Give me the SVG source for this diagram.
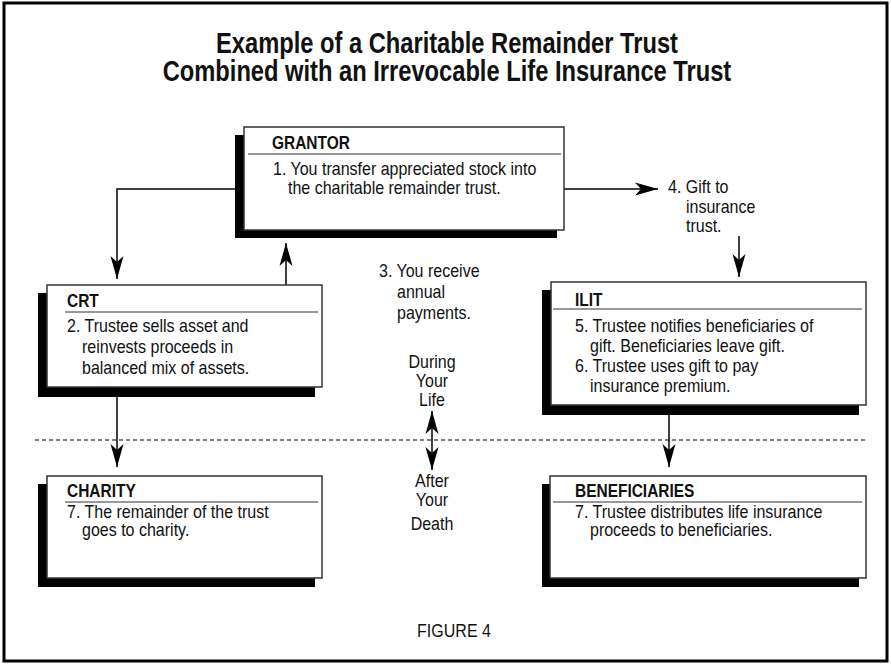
<svg xmlns="http://www.w3.org/2000/svg" width="891" height="665" viewBox="0 0 891 665">
<style>
text{font-family:"Liberation Sans",Arial,sans-serif;fill:#111;transform-box:fill-box;}
.title{font-size:30px;font-weight:bold;text-anchor:middle;transform-origin:50% 50%;transform:scaleX(0.79);}
.hd{font-size:18px;font-weight:bold;transform-origin:0 50%;transform:scaleX(0.86);}
.tx{font-size:17.5px;transform-origin:0 50%;transform:scaleX(0.915);}
.mid{font-size:17.5px;text-anchor:middle;transform-origin:50% 50%;transform:scaleX(0.915);}
.box{fill:#fff;stroke:#333;stroke-width:1.5;}
.sh{fill:#000;}
.hl{stroke:#333;stroke-width:1.2;}
.cn{fill:none;stroke:#000;stroke-width:1.5;}
</style>
<defs>
<marker id="ah" viewBox="-24 -8 25 16" markerWidth="25" markerHeight="16" refX="0" refY="0" orient="auto-start-reverse" markerUnits="userSpaceOnUse">
<path d="M0,0 L-23,-6.5 L-17,0 L-23,6.5 Z" fill="#000"/>
</marker>
</defs>
<rect x="4" y="3" width="883" height="658" fill="#fff" stroke="#000" stroke-width="3"/>
<g id="title">
<text class="title" x="447" y="53">Example of a Charitable Remainder Trust</text>
<text class="title" x="447" y="81">Combined with an Irrevocable Life Insurance Trust</text>
</g>
<g id="connectors">
<path class="cn" d="M235,189 H117 V279" marker-end="url(#ah)"/>
<path class="cn" d="M286,285 V243" marker-end="url(#ah)"/>
<path class="cn" d="M564,189 H658" marker-end="url(#ah)"/>
<path class="cn" d="M739,236 V277" marker-end="url(#ah)"/>
<path class="cn" d="M117,397 V467" marker-end="url(#ah)"/>
<path class="cn" d="M669,415 V467" marker-end="url(#ah)"/>
<path class="cn" d="M432,411 V470" marker-start="url(#ah)" marker-end="url(#ah)"/>
<line x1="35" y1="440" x2="868" y2="440" stroke="#000" stroke-width="1.2" stroke-dasharray="4 3"/>
</g>
<g id="grantor">
<rect class="sh" x="235" y="135" width="322" height="103"/>
<rect class="box" x="244" y="127" width="320" height="103"/>
<text class="hd" x="272" y="149">GRANTOR</text>
<line class="hl" x1="248" y1="154" x2="561" y2="154"/>
<text class="tx" x="273" y="175">1. You transfer appreciated stock into</text>
<text class="tx" x="288" y="194">the charitable remainder trust.</text>
</g>
<g id="crt">
<rect class="sh" x="38" y="293" width="277" height="104"/>
<rect class="box" x="47" y="285" width="275" height="102"/>
<text class="hd" x="67" y="307">CRT</text>
<line class="hl" x1="65" y1="312" x2="318" y2="312"/>
<text class="tx" x="67" y="332">2. Trustee sells asset and</text>
<text class="tx" x="82" y="353">reinvests proceeds in</text>
<text class="tx" x="82" y="374">balanced mix of assets.</text>
</g>
<g id="ilit">
<rect class="sh" x="542" y="290" width="317" height="125"/>
<rect class="box" x="551" y="282" width="315" height="123"/>
<text class="hd" x="575" y="306">ILIT</text>
<line class="hl" x1="553" y1="309" x2="862" y2="309"/>
<text class="tx" x="575" y="332">5. Trustee notifies beneficiaries of</text>
<text class="tx" x="590" y="352">gift. Beneficiaries leave gift.</text>
<text class="tx" x="575" y="372">6. Trustee uses gift to pay</text>
<text class="tx" x="590" y="392">insurance premium.</text>
</g>
<g id="charity">
<rect class="sh" x="38" y="484" width="277" height="103"/>
<rect class="box" x="47" y="476" width="275" height="102"/>
<text class="hd" x="67" y="497">CHARITY</text>
<line class="hl" x1="65" y1="502" x2="318" y2="502"/>
<text class="tx" x="67" y="518">7. The remainder of the trust</text>
<text class="tx" x="82" y="536">goes to charity.</text>
</g>
<g id="beneficiaries">
<rect class="sh" x="542" y="484" width="317" height="103"/>
<rect class="box" x="550" y="476" width="316" height="102"/>
<text class="hd" x="575" y="497">BENEFICIARIES</text>
<line class="hl" x1="553" y1="502" x2="862" y2="502"/>
<text class="tx" x="575" y="518">7. Trustee distributes life insurance</text>
<text class="tx" x="590" y="536">proceeds to beneficiaries.</text>
</g>
<g id="labels">
<text class="tx" x="379" y="277">3. You receive</text>
<text class="tx" x="397" y="298">annual</text>
<text class="tx" x="397" y="319">payments.</text>
<text class="mid" x="432" y="368">During</text>
<text class="mid" x="432" y="387">Your</text>
<text class="mid" x="432" y="406">Life</text>
<text class="mid" x="432" y="487">After</text>
<text class="mid" x="432" y="506">Your</text>
<text class="mid" x="432" y="530">Death</text>
<text class="tx" x="668" y="193">4. Gift to</text>
<text class="tx" x="686" y="213">insurance</text>
<text class="tx" x="686" y="232">trust.</text>
<text class="mid" x="454" y="637">FIGURE 4</text>
</g>
</svg>
